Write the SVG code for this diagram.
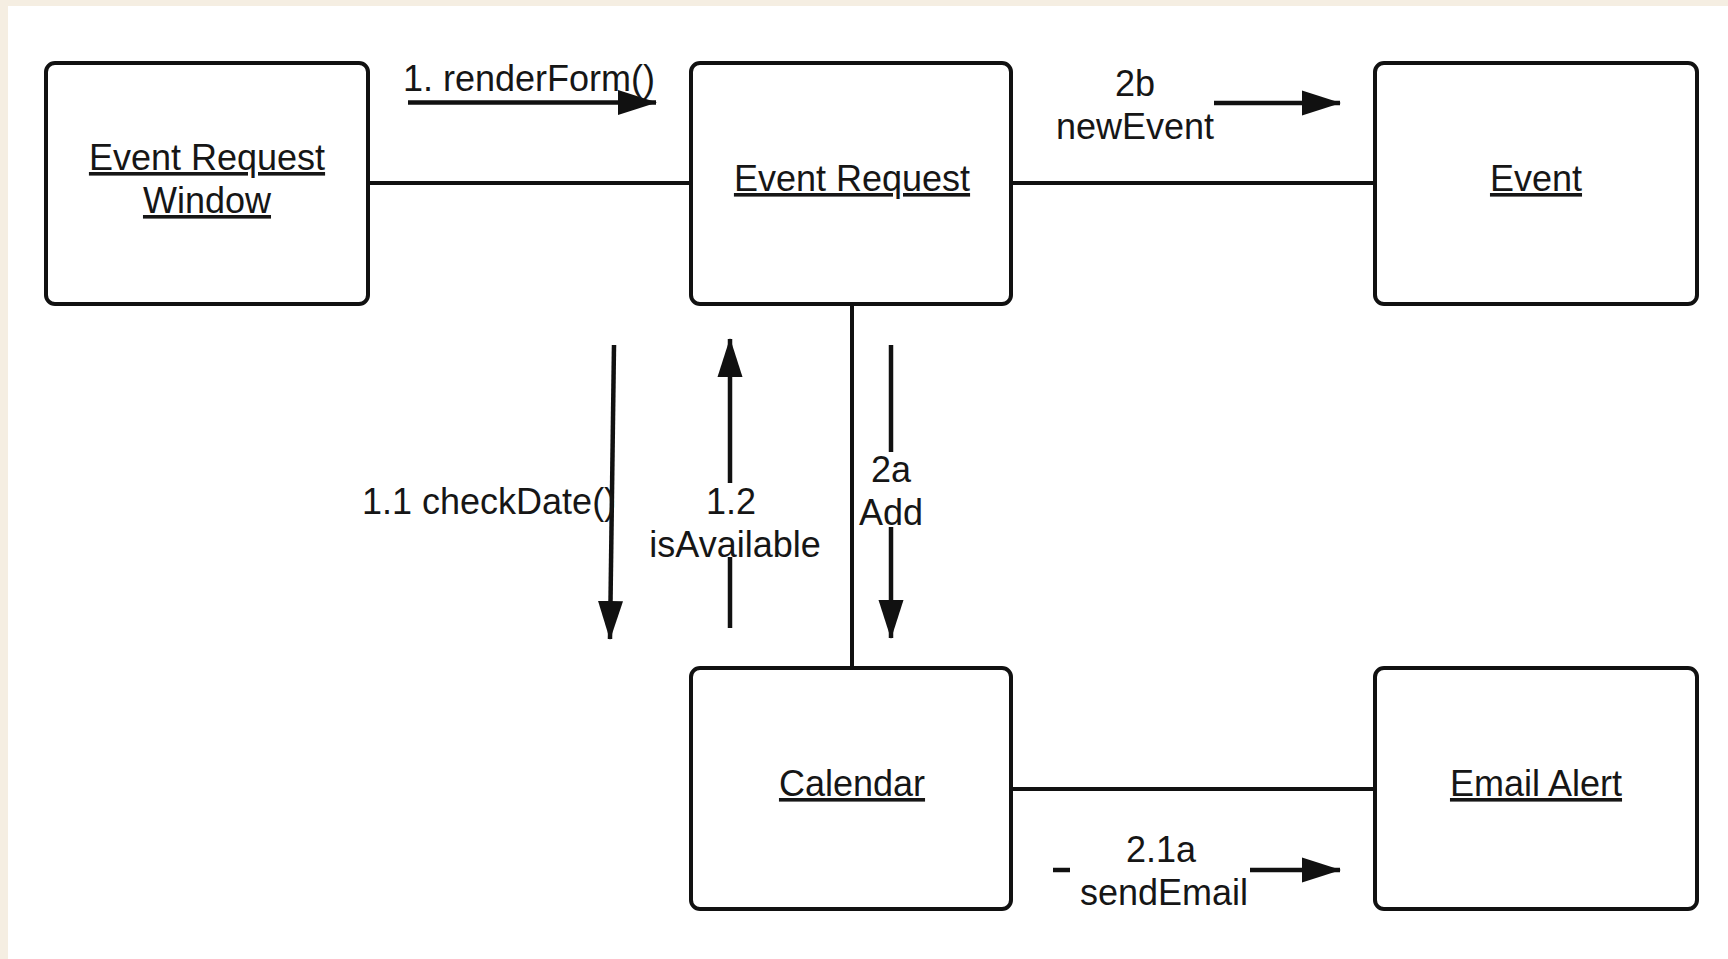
<svg xmlns="http://www.w3.org/2000/svg" width="1728" height="959" viewBox="0 0 1728 959">
  <style>
    .box { fill: #ffffff; stroke: #111111; stroke-width: 4; }
    .link { stroke: #111111; stroke-width: 4; fill: none; }
    .msg { stroke: #111111; stroke-width: 4.5; fill: none; }
    .lbl { font-family: "Liberation Sans", Arial, sans-serif; font-size: 36px; fill: #161616; }
    .obj { font-family: "Liberation Sans", Arial, sans-serif; font-size: 36px; fill: #161616; text-anchor: middle; text-decoration: underline; }
    .mid { text-anchor: middle; }
  </style>
  <defs>
    <marker id="head" markerUnits="userSpaceOnUse" markerWidth="40" markerHeight="28" viewBox="0 0 40 28" refX="38" refY="14" orient="auto">
      <path d="M0,1.5 L39,14 L0,26.5 Z" fill="#111111"/>
    </marker>
  </defs>

  <!-- page background -->
  <rect x="0" y="0" width="1728" height="959" fill="#f5eee2"/>
  <rect x="8" y="6" width="1720" height="953" fill="#ffffff"/>

  <!-- associations and messages -->
  <g id="connectors">
    <line class="link" x1="368" y1="183" x2="691" y2="183"/>
    <line class="link" x1="1011" y1="183" x2="1375" y2="183"/>
    <line class="link" x1="852" y1="304" x2="852" y2="668"/>
    <line class="link" x1="1011" y1="789" x2="1375" y2="789"/>

    <!-- 1. renderForm() -->
    <line class="msg" x1="408" y1="102.5" x2="656" y2="102.5" marker-end="url(#head)"/>
    <!-- 2b newEvent -->
    <line class="msg" x1="1214" y1="103" x2="1340" y2="103" marker-end="url(#head)"/>
    <!-- 2.1a sendEmail -->
    <line class="msg" x1="1053" y1="870" x2="1070" y2="870"/>
    <line class="msg" x1="1250" y1="870" x2="1340" y2="870" marker-end="url(#head)"/>
    <!-- 1.1 checkDate() -->
    <line class="msg" x1="614" y1="345" x2="610" y2="639" marker-end="url(#head)"/>
    <!-- 1.2 isAvailable -->
    <line class="msg" x1="730" y1="483" x2="730" y2="339" marker-end="url(#head)"/>
    <line class="msg" x1="730" y1="557" x2="730" y2="628"/>
    <!-- 2a Add -->
    <line class="msg" x1="891" y1="345" x2="891" y2="452"/>
    <line class="msg" x1="891" y1="527" x2="891" y2="638" marker-end="url(#head)"/>

    <text class="lbl" x="403" y="91">1. renderForm()</text>
    <text class="lbl mid" x="1135" y="96">2b</text>
    <text class="lbl mid" x="1135" y="139">newEvent</text>
    <text class="lbl" x="362" y="514">1.1 checkDate()</text>
    <text class="lbl mid" x="731" y="514">1.2</text>
    <text class="lbl mid" x="735" y="557">isAvailable</text>
    <text class="lbl mid" x="891" y="482">2a</text>
    <text class="lbl mid" x="891" y="525">Add</text>
    <text class="lbl mid" x="1161" y="862">2.1a</text>
    <text class="lbl mid" x="1164" y="905">sendEmail</text>
  </g>

  <g id="event-request-window">
    <rect class="box" x="46" y="63" width="322" height="241" rx="9"/>
    <text class="obj" x="207" y="170">Event Request</text>
    <text class="obj" x="207" y="213">Window</text>
  </g>

  <g id="event-request">
    <rect class="box" x="691" y="63" width="320" height="241" rx="9"/>
    <text class="obj" x="852" y="191">Event Request</text>
  </g>

  <g id="event">
    <rect class="box" x="1375" y="63" width="322" height="241" rx="9"/>
    <text class="obj" x="1536" y="191">Event</text>
  </g>

  <g id="calendar">
    <rect class="box" x="691" y="668" width="320" height="241" rx="9"/>
    <text class="obj" x="852" y="796">Calendar</text>
  </g>

  <g id="email-alert">
    <rect class="box" x="1375" y="668" width="322" height="241" rx="9"/>
    <text class="obj" x="1536" y="796">Email Alert</text>
  </g>
</svg>
